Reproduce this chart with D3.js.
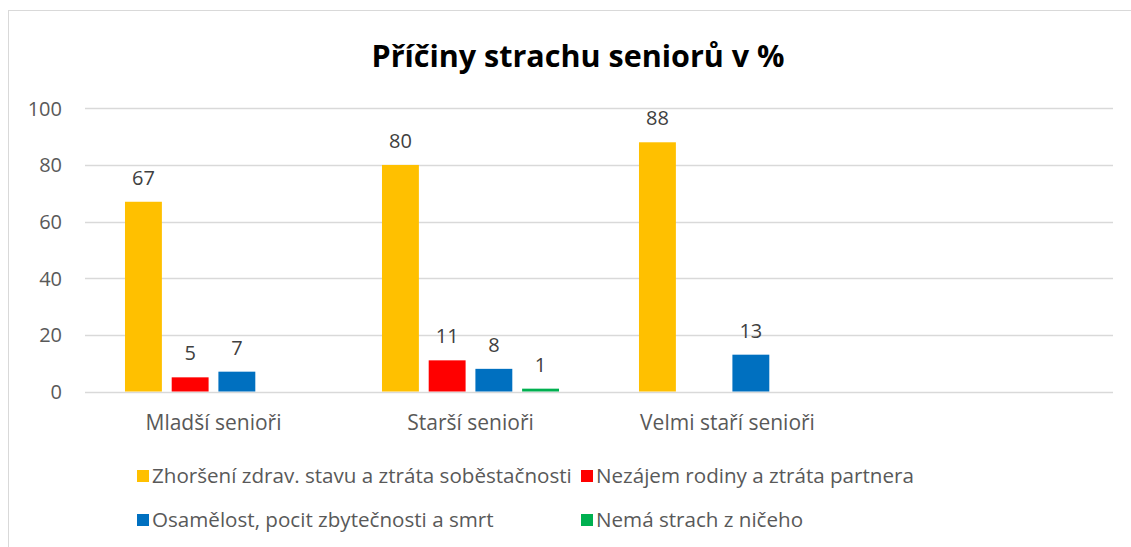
<!DOCTYPE html>
<html><head><meta charset="utf-8">
<script src="https://cdn.jsdelivr.net/npm/d3@7"></script>
<style>body{margin:0;background:#fff}svg{display:block}</style>
</head><body>
<svg id="c" width="1131" height="547"></svg>
<script>
const title = "Příčiny strachu seniorů v %";
const categories = ["Mladší senioři", "Starší senioři", "Velmi staří senioři", ""];
const seriesNames = ["Zhoršení zdrav. stavu a ztráta soběstačnosti", "Nezájem rodiny a ztráta partnera", "Osamělost, pocit zbytečnosti a smrt", "Nemá strach z ničeho"];
const seriesColors = ["#FFC000", "#FF0000", "#0070C0", "#00B050"];
const zhorseni = [67, 80, 88, null];
const nezajem = [5, 11, null, null];
const osamelost = [7, 8, 13, null];
const nemaStrach = [null, 1, null, null];
const yTicks = [0, 20, 40, 60, 80, 100];

const seriesValues = [zhorseni, nezajem, osamelost, nemaStrach];
const font = "'Open Sans', sans-serif";
const svg = d3.select("#c");

// chart border
svg.append("rect").attr("x", 8.5).attr("y", 10.5).attr("width", 1200).attr("height", 600)
  .attr("fill", "#fff").attr("stroke", "#d9d9d9").attr("stroke-width", 1);

const x0 = d3.scaleBand().domain(categories.map((c, i) => i)).range([85, 1113]);
const x1 = d3.scaleBand().domain(seriesNames.map((s, i) => i)).range([0, x0.bandwidth()]).paddingInner(0.21).paddingOuter(0.856);
const y = d3.scaleLinear().domain([0, 100]).range([391.5, 108.3]);

// gridlines
svg.append("g").selectAll("line").data(yTicks).join("line")
  .attr("x1", 85).attr("x2", 1113)
  .attr("y1", d => Math.round(y(d)) + 0.5).attr("y2", d => Math.round(y(d)) + 0.5)
  .attr("stroke", "#d9d9d9").attr("stroke-width", 1.5);

// y axis labels
const yAxis = d3.axisLeft(y).tickValues(yTicks).tickSize(0).tickPadding(0);
const ya = svg.append("g").attr("transform", "translate(62,0)").call(yAxis);
ya.select(".domain").remove();
ya.selectAll("text").attr("font-family", font).attr("font-size", 20).attr("fill", "#595959").attr("dy", "0.35em");

// x axis labels
const xAxis = d3.axisBottom(x0).tickFormat(i => categories[i]).tickSize(0).tickPadding(0);
const xa = svg.append("g").attr("transform", "translate(0,423)").call(xAxis);
xa.select(".domain").remove();
xa.selectAll("text").attr("font-family", font).attr("font-size", 21).attr("fill", "#595959").attr("dy", "0.35em");

// bars
const flat = [];
seriesValues.forEach((vals, s) => vals.forEach((v, c) => { if (v !== null) flat.push({s, c, v}); }));
svg.append("g").selectAll("rect").data(flat).join("rect")
  .attr("x", d => x0(d.c) + x1(d.s))
  .attr("width", x1.bandwidth())
  .attr("y", d => y(d.v))
  .attr("height", d => y(0) - y(d.v))
  .attr("fill", d => seriesColors[d.s]);

// data labels
svg.append("g").selectAll("text").data(flat).join("text")
  .attr("x", d => x0(d.c) + x1(d.s) + x1.bandwidth() / 2)
  .attr("y", d => y(d.v) - 17)
  .attr("text-anchor", "middle")
  .attr("font-family", font).attr("font-size", 20).attr("fill", "#404040")
  .text(d => d.v);

// title
svg.append("text").attr("x", 578).attr("y", 67).attr("text-anchor", "middle")
  .attr("font-family", font).attr("font-weight", "bold").attr("font-size", 30.5).attr("fill", "#000")
  .text(title);

// legend
const legendPos = [[137, 476], [581, 476], [137, 520], [581, 520]];
const lg = svg.append("g").selectAll("g").data(seriesNames).join("g")
  .attr("transform", (d, i) => `translate(${legendPos[i][0]},${legendPos[i][1]})`);
lg.append("rect").attr("x", 0).attr("y", -6).attr("width", 12).attr("height", 12).attr("fill", (d, i) => seriesColors[i]);
lg.append("text").attr("x", 15).attr("y", 0).attr("dy", "0.35em")
  .attr("font-family", font).attr("font-size", 20.6).attr("fill", "#595959").text(d => d);
</script>
</body></html>
